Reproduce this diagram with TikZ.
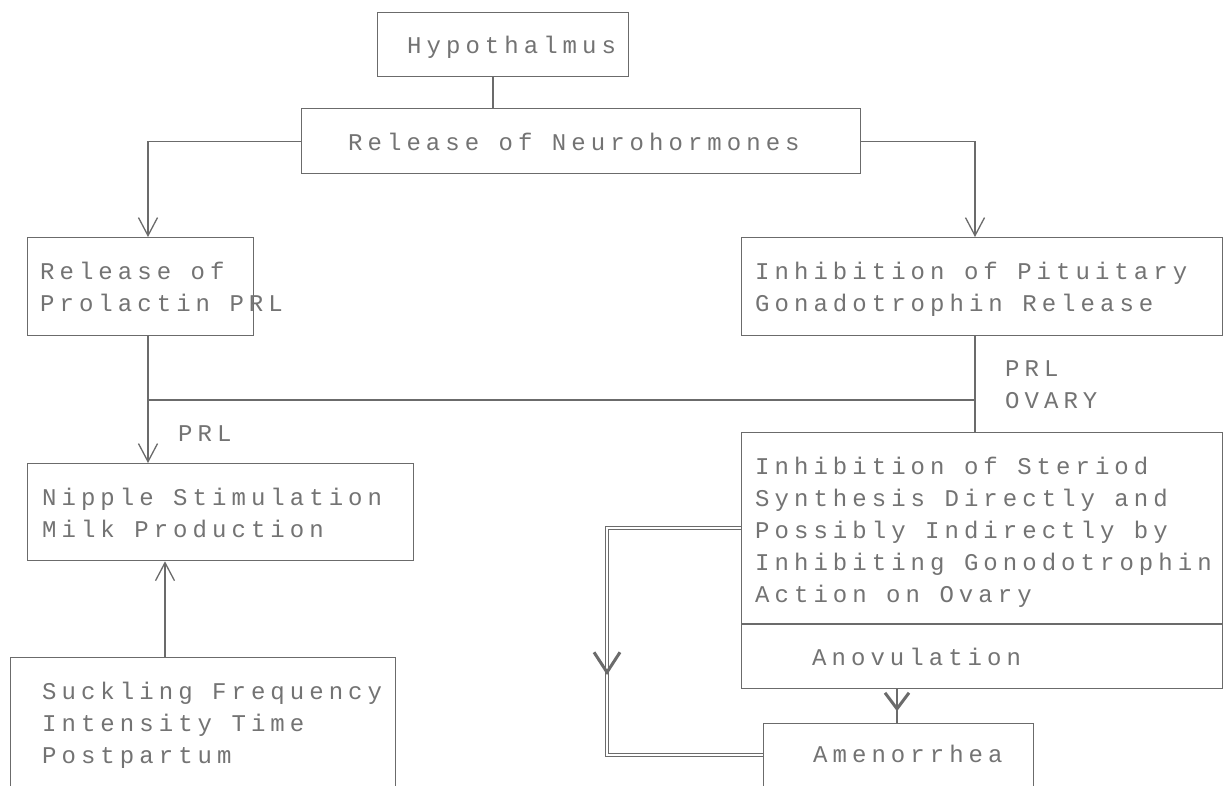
\documentclass[tikz,border=0pt]{standalone}
\usepackage{fontspec}
\newfontfamily\plotfont{Liberation Mono}[LetterSpace=21]
\usetikzlibrary{arrows.meta,decorations.markings}
\definecolor{ink}{gray}{0.42}
\definecolor{txt}{gray}{0.45}
\begin{document}
\begin{tikzpicture}[x=1pt,y=-1pt,
  box/.style={draw=ink, line width=1.3pt, inner sep=0pt, anchor=north west},
  lbl/.style={anchor=base west, inner sep=0pt, text=txt, font=\plotfont\fontsize{24}{32}\selectfont, align=left},
  con/.style={draw=ink, line width=1.3pt},
  arr/.style={con, -{Straight Barb[length=18pt,width=19pt,line width=1.3pt]}},
  dbl/.style={draw=ink, double=white, double distance=2.6pt, line width=1.1pt}]
\useasboundingbox (0,0) rectangle (1229,785);
\clip (0,0) rectangle (1229,785);
\fill[white] (0,0) rectangle (1229,785);
% boxes
\node[box, minimum width=251pt, minimum height=64pt] (hyp) at (377,12) {};
\node[box, minimum width=559pt, minimum height=65pt] (rel) at (301,108) {};
\node[box, minimum width=226pt, minimum height=98pt] (pro) at (27,237) {};
\node[box, minimum width=481pt, minimum height=98pt] (pit) at (741,237) {};
\node[box, minimum width=386pt, minimum height=97pt] (nip) at (27,463) {};
\node[box, minimum width=481pt, minimum height=256pt] (ster) at (741,432) {};
\node[box, minimum width=385pt, minimum height=140pt] (suck) at (10,657) {};
\node[box, minimum width=270pt, minimum height=80pt] (amen) at (763,723) {};
% helper coordinates
\coordinate (hx) at (493,0);
\coordinate (lx) at (148,0);
\coordinate (rx) at (975,0);
\coordinate (sx) at (165,0);
\coordinate (ax) at (897,0);
\coordinate (dbx) at (607,0);
\coordinate (j1) at (148,400);
\coordinate (j2) at (975,400);
\coordinate (sy) at (0,528);
\coordinate (ay) at (0,755);
\coordinate (dv) at (0,624);
% divider
\draw[con] (ster.west |- dv) -- (ster.east |- dv);
% connectors
\draw[con] (hyp.south -| hx) -- (rel.north -| hx);
\draw[arr] (rel.west) -| (pro.north -| lx);
\draw[arr] (rel.east) -| (pit.north -| rx);
\draw[arr] (pro.south -| lx) -- (nip.north -| lx);
\draw[con] (j1) -- (j2);
\draw[con] (pit.south -| rx) -- (ster.north -| rx);
\draw[arr] (suck.north -| sx) -- (nip.south -| sx);
\draw[dbl] (ster.west |- sy) -| (dbx |- ay) -- (amen.west |- ay);
\path[postaction={decorate}, decoration={markings, mark=at position 281pt with {\arrow[ink]{Straight Barb[length=20pt,width=26pt,line width=3pt]}}}]
  (ster.west |- sy) -| (dbx |- ay) -- (amen.west |- ay);
\draw[con, postaction={decorate}, decoration={markings, mark=at position 22pt with {\arrow[ink]{Straight Barb[length=16pt,width=24pt,line width=3pt]}}}]
  (ster.south -| ax) -- (amen.north -| ax);
% texts (anchor = baseline of the last line)
\node[lbl] (hypT) at (407,53) {Hypothalmus};
\node[lbl] (relT) at (348,150) {Release of Neurohormones};
\node[lbl] (proT) at (40,311) {Release of\\Prolactin PRL};
\node[lbl] (pitT) at (755,311) {Inhibition of Pituitary\\Gonadotrophin Release};
\node[lbl] (prlR) at (1005,408) {PRL\\OVARY};
\node[lbl] (prlL) at (178,441) {PRL};
\node[lbl] (nipT) at (42,537) {Nipple Stimulation\\Milk Production};
\node[lbl] (sterT) at (755,602) {Inhibition of Steriod\\Synthesis Directly and\\Possibly Indirectly by\\Inhibiting Gonodotrophin\\Action on Ovary};
\node[lbl] (anoT) at (812,665) {Anovulation};
\node[lbl] (amenT) at (813,762) {Amenorrhea};
\node[lbl] (suckT) at (42,763) {Suckling Frequency\\Intensity Time\\Postpartum};
\end{tikzpicture}
\end{document}
